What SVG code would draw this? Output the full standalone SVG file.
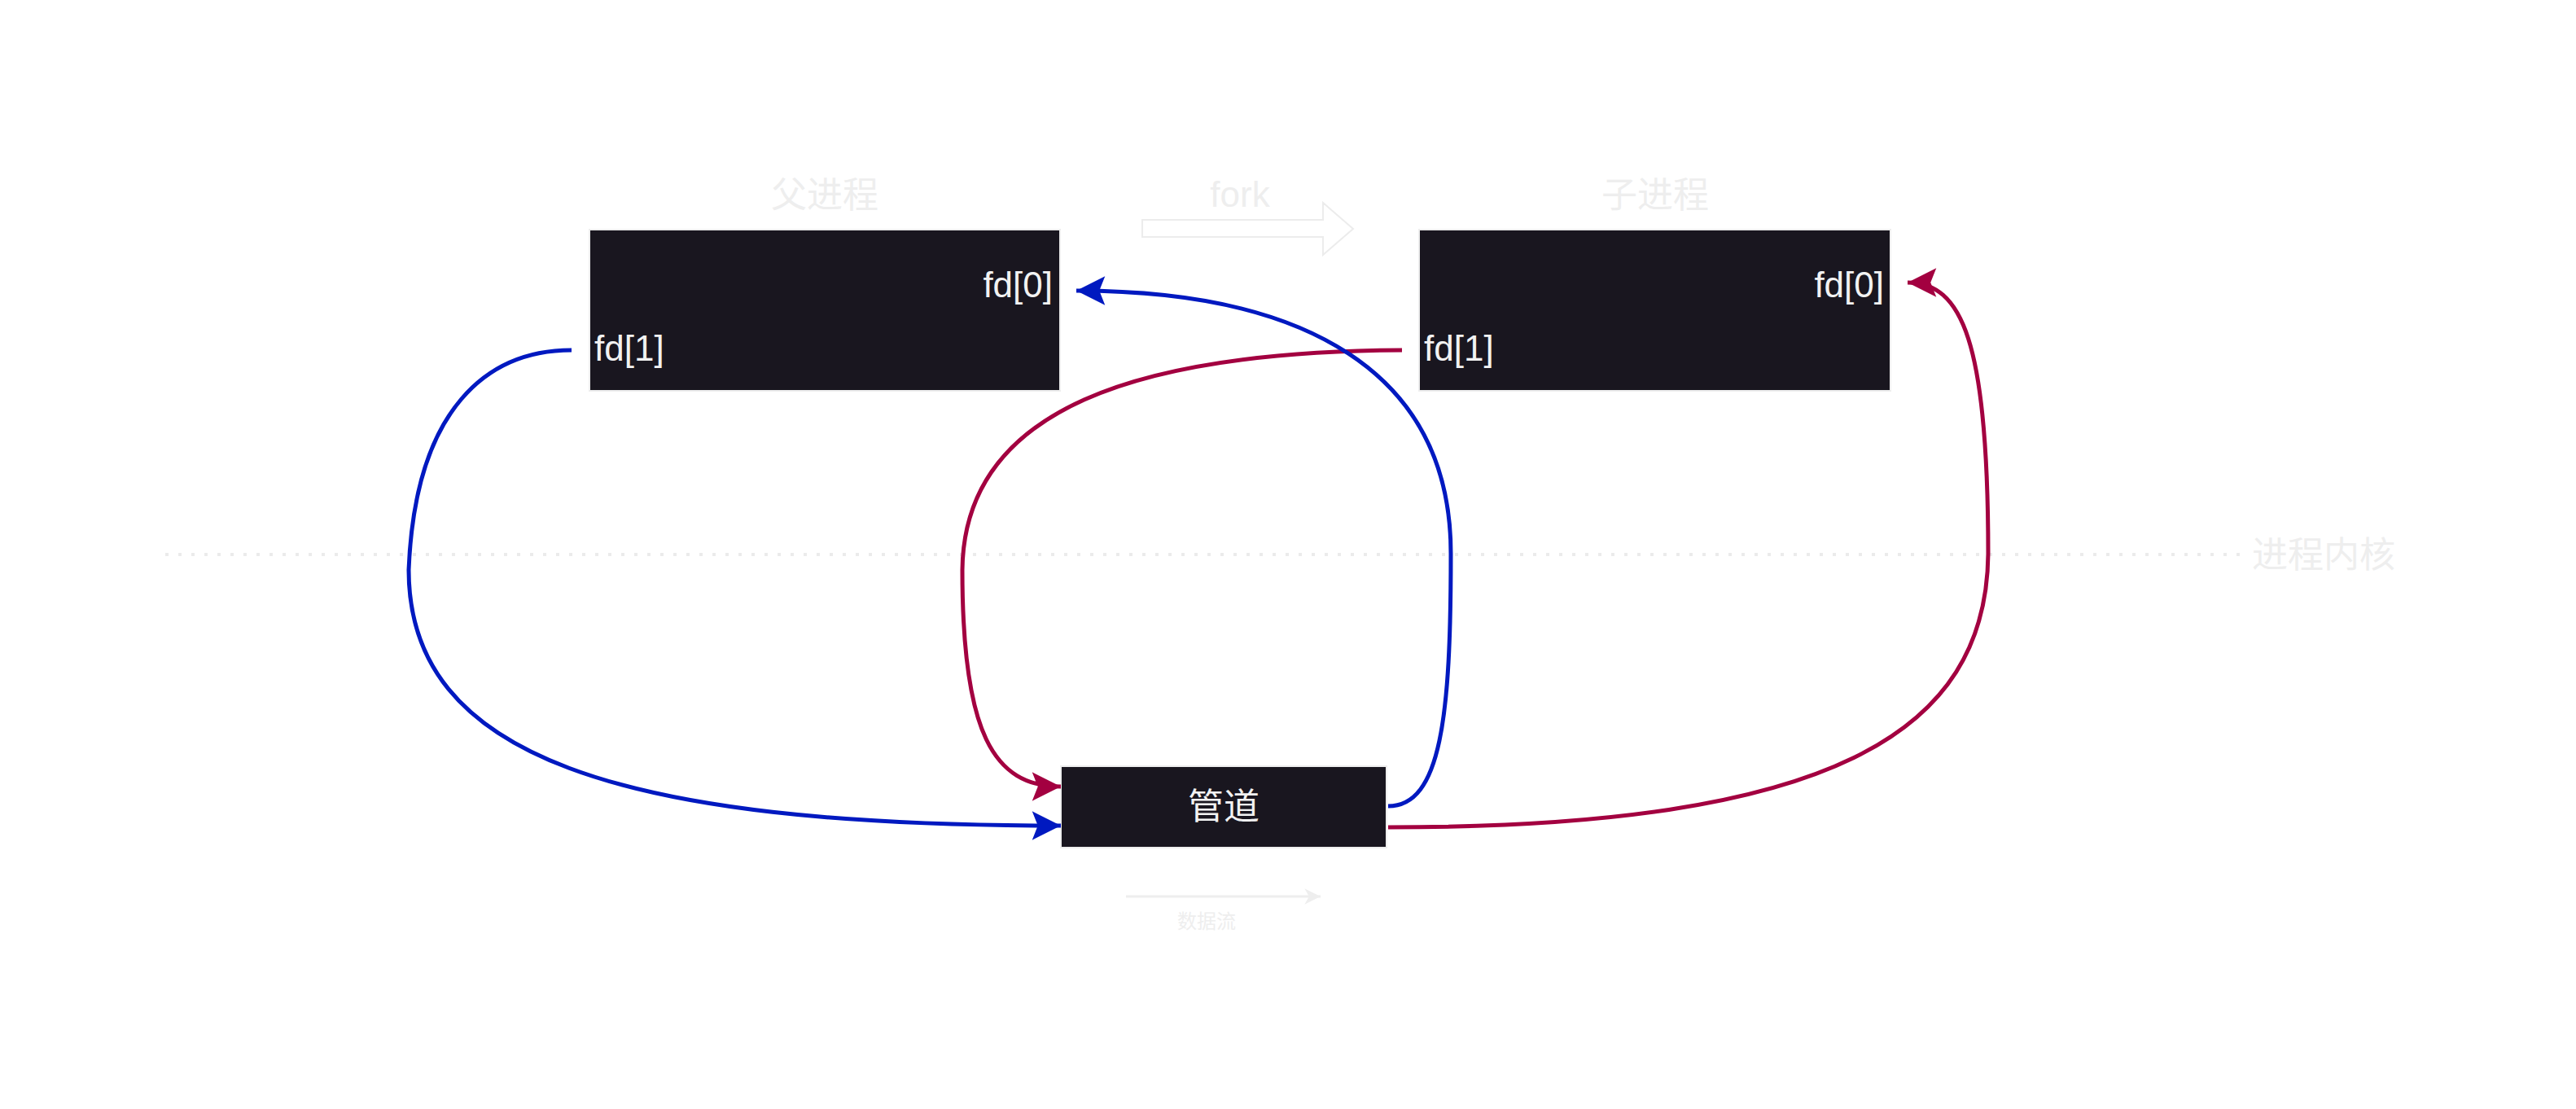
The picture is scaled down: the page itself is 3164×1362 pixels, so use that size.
<svg xmlns="http://www.w3.org/2000/svg" width="3164" height="1362" viewBox="0 0 3164 1362">
<style>
.box{fill:#19161f;stroke:#eeeeee;stroke-width:2}
.lbl{font-family:"Liberation Sans","Noto Sans CJK SC",sans-serif;font-size:44px;fill:#f2f2f2}
.cjk{font-family:"Noto Sans CJK SC","Liberation Sans",sans-serif;font-size:44px;fill:#f2f2f2}
.faint{font-family:"Noto Sans CJK SC","Liberation Sans",sans-serif;font-size:44px;fill:#eeeeee}
.faintl{font-family:"Liberation Sans","Noto Sans CJK SC",sans-serif;font-size:44px;fill:#eeeeee}
.blue{fill:none;stroke:#0019c0;stroke-width:5;marker-end:url(#ab)}
.red{fill:none;stroke:#a30040;stroke-width:5;marker-end:url(#ar)}
</style>
<defs>
<marker id="ab" markerUnits="userSpaceOnUse" markerWidth="40" markerHeight="40" viewBox="-32 -16 34 32" refX="0" refY="0" orient="auto">
<path d="M0,0 L-30,-15 L-24,0 L-30,15 Z" fill="#0019c0"/>
</marker>
<marker id="ar" markerUnits="userSpaceOnUse" markerWidth="40" markerHeight="40" viewBox="-32 -16 34 32" refX="0" refY="0" orient="auto">
<path d="M0,0 L-30,-15 L-24,0 L-30,15 Z" fill="#a30040"/>
</marker>
<marker id="ag" markerUnits="userSpaceOnUse" markerWidth="24" markerHeight="24" viewBox="-20 -10 22 20" refX="0" refY="0" orient="auto">
<path d="M0,0 L-18,-9 L-13,0 L-18,9 Z" fill="#eeeeee"/>
</marker>
</defs>
<rect width="3164" height="1362" fill="#ffffff"/>

<g id="kernel-line">
<line x1="203" y1="681" x2="2760" y2="681" stroke="#ebebeb" stroke-width="4" stroke-dasharray="4 12"/>
<text class="faint" x="2766" y="697">进程内核</text>
</g>

<g id="fork">
<text class="faintl" x="1523" y="254" text-anchor="middle">fork</text>
<path d="M1403,270 L1625,270 L1625,249 L1662,281 L1625,313 L1625,291 L1403,291 Z" fill="none" stroke="#ececec" stroke-width="2"/>
</g>

<g id="parent">
<text class="faint" x="1013" y="255" text-anchor="middle">父进程</text>
<rect class="box" x="724" y="282" width="578" height="198"/>
<text class="lbl" x="1293" y="365" text-anchor="end">fd[0]</text>
<text class="lbl" x="730" y="443">fd[1]</text>
</g>

<g id="child">
<text class="faint" x="2033" y="255" text-anchor="middle">子进程</text>
<rect class="box" x="1743" y="282" width="579" height="198"/>
<text class="lbl" x="2314" y="365" text-anchor="end">fd[0]</text>
<text class="lbl" x="1749" y="443">fd[1]</text>
</g>

<g id="pipe">
<rect class="box" x="1303" y="941" width="400" height="100"/>
<text class="cjk" x="1503" y="1006" text-anchor="middle">管道</text>
</g>

<g id="legend">
<line x1="1383" y1="1101" x2="1622" y2="1101" stroke="#eeeeee" stroke-width="3" marker-end="url(#ag)"/>
<text x="1482" y="1140" text-anchor="middle" font-family="Noto Sans CJK SC, Liberation Sans, sans-serif" font-size="24" fill="#eeeeee">数据流</text>
</g>

<g id="connectors">
<path class="blue" d="M702,430 C600,430 510,500 502,700 C502,930 760,1014 1303,1014"/>
<path class="red" d="M1722,430 C1400,432 1184,500 1182,700 C1182,900 1220,966 1303,966"/>
<path class="blue" d="M1705,990 C1770,990 1782,880 1782,680 C1782,455 1600,357 1322,357"/>
<path class="red" d="M1705,1016 C2250,1016 2440,900 2442,680 C2442,420 2410,347 2343,347"/>
</g>
</svg>
